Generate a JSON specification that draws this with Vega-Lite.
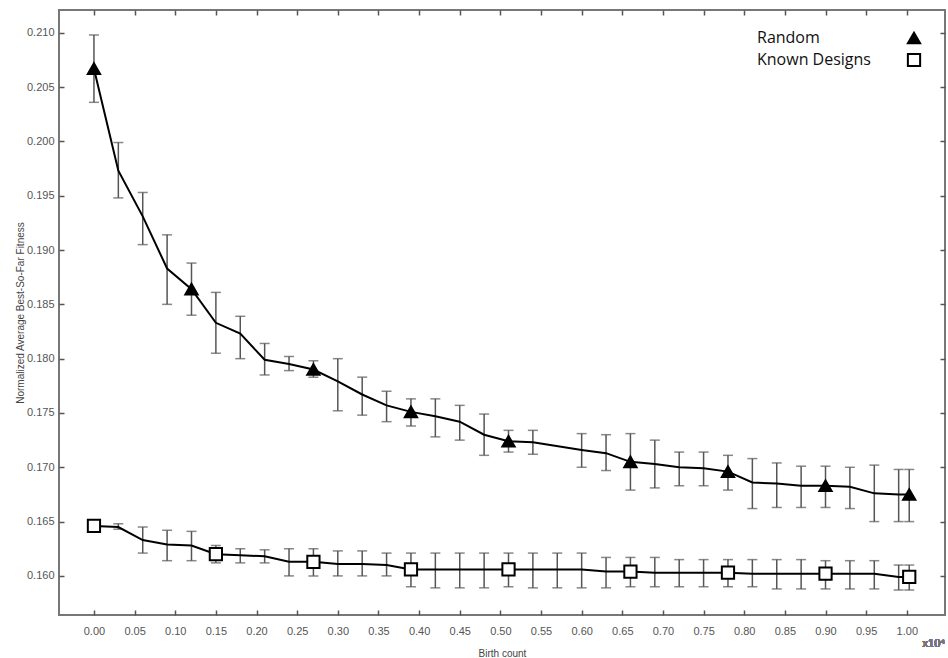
{
  "$schema": "https://vega.github.io/schema/vega-lite/v6.json",
  "width": 886,
  "height": 605,
  "autosize": "none",
  "padding": {"left": 59, "top": 10, "right": 3, "bottom": 43},
  "background": "white",
  "config": {
    "view": {"stroke": "#777", "strokeWidth": 2},
    "font": "Liberation Sans",
    "axis": {
      "grid": false,
      "domain": false,
      "ticks": true,
      "tickColor": "#555",
      "tickWidth": 1.5,
      "tickSize": 5,
      "offset": -5,
      "labelColor": "#555",
      "labelFont": "Liberation Sans",
      "labelFontSize": 11,
      "titleColor": "#444",
      "titleFont": "Liberation Sans",
      "titleFontSize": 10,
      "titleFontWeight": "normal"
    }
  },
  "data": {
    "values": [
      {"series": "Random", "x": 0.0, "y": 0.2067, "lo": 0.2036, "hi": 0.2098, "marked": true},
      {"series": "Random", "x": 0.03, "y": 0.1973, "lo": 0.1948, "hi": 0.1999, "marked": false},
      {"series": "Random", "x": 0.06, "y": 0.1931, "lo": 0.1905, "hi": 0.1953, "marked": false},
      {"series": "Random", "x": 0.09, "y": 0.1883, "lo": 0.1850, "hi": 0.1914, "marked": false},
      {"series": "Random", "x": 0.12, "y": 0.1864, "lo": 0.1840, "hi": 0.1888, "marked": true},
      {"series": "Random", "x": 0.15, "y": 0.1833, "lo": 0.1805, "hi": 0.1861, "marked": false},
      {"series": "Random", "x": 0.18, "y": 0.1823, "lo": 0.1800, "hi": 0.1839, "marked": false},
      {"series": "Random", "x": 0.21, "y": 0.1799, "lo": 0.1785, "hi": 0.1814, "marked": false},
      {"series": "Random", "x": 0.24, "y": 0.1795, "lo": 0.1789, "hi": 0.1802, "marked": false},
      {"series": "Random", "x": 0.27, "y": 0.1790, "lo": 0.1783, "hi": 0.1798, "marked": true},
      {"series": "Random", "x": 0.30, "y": 0.1779, "lo": 0.1752, "hi": 0.1800, "marked": false},
      {"series": "Random", "x": 0.33, "y": 0.1767, "lo": 0.1748, "hi": 0.1783, "marked": false},
      {"series": "Random", "x": 0.36, "y": 0.1757, "lo": 0.1742, "hi": 0.1770, "marked": false},
      {"series": "Random", "x": 0.39, "y": 0.1751, "lo": 0.1738, "hi": 0.1763, "marked": true},
      {"series": "Random", "x": 0.42, "y": 0.1747, "lo": 0.1728, "hi": 0.1763, "marked": false},
      {"series": "Random", "x": 0.45, "y": 0.1742, "lo": 0.1725, "hi": 0.1757, "marked": false},
      {"series": "Random", "x": 0.48, "y": 0.1730, "lo": 0.1711, "hi": 0.1749, "marked": false},
      {"series": "Random", "x": 0.51, "y": 0.1724, "lo": 0.1714, "hi": 0.1734, "marked": true},
      {"series": "Random", "x": 0.54, "y": 0.1723, "lo": 0.1712, "hi": 0.1734, "marked": false},
      {"series": "Random", "x": 0.60, "y": 0.1716, "lo": 0.1700, "hi": 0.1731, "marked": false},
      {"series": "Random", "x": 0.63, "y": 0.1713, "lo": 0.1697, "hi": 0.1730, "marked": false},
      {"series": "Random", "x": 0.66, "y": 0.1705, "lo": 0.1679, "hi": 0.1731, "marked": true},
      {"series": "Random", "x": 0.69, "y": 0.1703, "lo": 0.1681, "hi": 0.1725, "marked": false},
      {"series": "Random", "x": 0.72, "y": 0.1700, "lo": 0.1683, "hi": 0.1714, "marked": false},
      {"series": "Random", "x": 0.75, "y": 0.1699, "lo": 0.1683, "hi": 0.1714, "marked": false},
      {"series": "Random", "x": 0.78, "y": 0.1696, "lo": 0.1679, "hi": 0.1711, "marked": true},
      {"series": "Random", "x": 0.81, "y": 0.1686, "lo": 0.1662, "hi": 0.1708, "marked": false},
      {"series": "Random", "x": 0.84, "y": 0.1685, "lo": 0.1663, "hi": 0.1704, "marked": false},
      {"series": "Random", "x": 0.87, "y": 0.1683, "lo": 0.1663, "hi": 0.1701, "marked": false},
      {"series": "Random", "x": 0.90, "y": 0.1683, "lo": 0.1663, "hi": 0.1701, "marked": true},
      {"series": "Random", "x": 0.93, "y": 0.1682, "lo": 0.1662, "hi": 0.1700, "marked": false},
      {"series": "Random", "x": 0.96, "y": 0.1676, "lo": 0.1650, "hi": 0.1702, "marked": false},
      {"series": "Random", "x": 0.99, "y": 0.1675, "lo": 0.1650, "hi": 0.1698, "marked": false},
      {"series": "Random", "x": 1.003, "y": 0.1675, "lo": 0.1650, "hi": 0.1698, "marked": true},
      {"series": "Known Designs", "x": 0.0, "y": 0.1646, "lo": 0.1645, "hi": 0.1647, "marked": true},
      {"series": "Known Designs", "x": 0.03, "y": 0.1645, "lo": 0.1643, "hi": 0.1648, "marked": false},
      {"series": "Known Designs", "x": 0.06, "y": 0.1633, "lo": 0.1621, "hi": 0.1645, "marked": false},
      {"series": "Known Designs", "x": 0.09, "y": 0.1629, "lo": 0.1614, "hi": 0.1642, "marked": false},
      {"series": "Known Designs", "x": 0.12, "y": 0.1628, "lo": 0.1614, "hi": 0.1641, "marked": false},
      {"series": "Known Designs", "x": 0.15, "y": 0.1620, "lo": 0.1612, "hi": 0.1628, "marked": true},
      {"series": "Known Designs", "x": 0.18, "y": 0.1619, "lo": 0.1612, "hi": 0.1625, "marked": false},
      {"series": "Known Designs", "x": 0.21, "y": 0.1618, "lo": 0.1612, "hi": 0.1624, "marked": false},
      {"series": "Known Designs", "x": 0.24, "y": 0.1613, "lo": 0.1600, "hi": 0.1625, "marked": false},
      {"series": "Known Designs", "x": 0.27, "y": 0.1613, "lo": 0.1600, "hi": 0.1625, "marked": true},
      {"series": "Known Designs", "x": 0.30, "y": 0.1611, "lo": 0.1600, "hi": 0.1623, "marked": false},
      {"series": "Known Designs", "x": 0.33, "y": 0.1611, "lo": 0.1600, "hi": 0.1623, "marked": false},
      {"series": "Known Designs", "x": 0.36, "y": 0.1610, "lo": 0.1600, "hi": 0.1621, "marked": false},
      {"series": "Known Designs", "x": 0.39, "y": 0.1606, "lo": 0.1590, "hi": 0.1621, "marked": true},
      {"series": "Known Designs", "x": 0.42, "y": 0.1606, "lo": 0.1589, "hi": 0.1621, "marked": false},
      {"series": "Known Designs", "x": 0.45, "y": 0.1606, "lo": 0.1589, "hi": 0.1621, "marked": false},
      {"series": "Known Designs", "x": 0.48, "y": 0.1606, "lo": 0.1589, "hi": 0.1621, "marked": false},
      {"series": "Known Designs", "x": 0.51, "y": 0.1606, "lo": 0.1590, "hi": 0.1621, "marked": true},
      {"series": "Known Designs", "x": 0.54, "y": 0.1606, "lo": 0.1589, "hi": 0.1621, "marked": false},
      {"series": "Known Designs", "x": 0.57, "y": 0.1606, "lo": 0.1589, "hi": 0.1621, "marked": false},
      {"series": "Known Designs", "x": 0.60, "y": 0.1606, "lo": 0.1589, "hi": 0.1621, "marked": false},
      {"series": "Known Designs", "x": 0.63, "y": 0.1604, "lo": 0.1589, "hi": 0.1617, "marked": false},
      {"series": "Known Designs", "x": 0.66, "y": 0.1604, "lo": 0.1590, "hi": 0.1617, "marked": true},
      {"series": "Known Designs", "x": 0.69, "y": 0.1603, "lo": 0.1590, "hi": 0.1617, "marked": false},
      {"series": "Known Designs", "x": 0.72, "y": 0.1603, "lo": 0.1590, "hi": 0.1615, "marked": false},
      {"series": "Known Designs", "x": 0.75, "y": 0.1603, "lo": 0.1590, "hi": 0.1615, "marked": false},
      {"series": "Known Designs", "x": 0.78, "y": 0.1603, "lo": 0.1590, "hi": 0.1615, "marked": true},
      {"series": "Known Designs", "x": 0.81, "y": 0.1602, "lo": 0.1590, "hi": 0.1615, "marked": false},
      {"series": "Known Designs", "x": 0.84, "y": 0.1602, "lo": 0.1588, "hi": 0.1615, "marked": false},
      {"series": "Known Designs", "x": 0.87, "y": 0.1602, "lo": 0.1588, "hi": 0.1615, "marked": false},
      {"series": "Known Designs", "x": 0.90, "y": 0.1602, "lo": 0.1588, "hi": 0.1614, "marked": true},
      {"series": "Known Designs", "x": 0.93, "y": 0.1602, "lo": 0.1588, "hi": 0.1614, "marked": false},
      {"series": "Known Designs", "x": 0.96, "y": 0.1602, "lo": 0.1588, "hi": 0.1614, "marked": false},
      {"series": "Known Designs", "x": 0.99, "y": 0.1599, "lo": 0.1587, "hi": 0.1610, "marked": false},
      {"series": "Known Designs", "x": 1.003, "y": 0.1599, "lo": 0.1587, "hi": 0.1610, "marked": true}
    ]
  },
  "resolve": {"axis": {"x": "independent", "y": "independent"}},
  "layer": [
    {
      "mark": {"type": "rule", "color": "#555", "strokeWidth": 1.5},
      "encoding": {
        "x": {"field": "x", "type": "quantitative", "scale": {"domain": [-0.043, 1.047], "nice": false, "zero": false},
          "axis": {"orient": "bottom", "values": [0,0.05,0.1,0.15,0.2,0.25,0.3,0.35,0.4,0.45,0.5,0.55,0.6,0.65,0.7,0.75,0.8,0.85,0.9,0.95,1.0], "format": ".2f", "labelPadding": 10, "title": "Birth count", "titlePadding": 12}},
        "y": {"field": "lo", "type": "quantitative", "scale": {"domain": [0.1564, 0.2121], "nice": false, "zero": false},
          "axis": {"orient": "left", "values": [0.16,0.165,0.17,0.175,0.18,0.185,0.19,0.195,0.2,0.205,0.21], "format": ".3f", "labelPadding": 5, "title": "Normalized Average Best-So-Far Fitness", "titlePadding": 1}},
        "y2": {"field": "hi"}
      }
    },
    {
      "mark": {"type": "tick", "orient": "horizontal", "color": "#555", "size": 10, "thickness": 1.5},
      "encoding": {
        "x": {"field": "x", "type": "quantitative", "axis": null},
        "y": {"field": "lo", "type": "quantitative", "axis": null}
      }
    },
    {
      "mark": {"type": "tick", "orient": "horizontal", "color": "#555", "size": 10, "thickness": 1.5},
      "encoding": {
        "x": {"field": "x", "type": "quantitative", "axis": null},
        "y": {"field": "hi", "type": "quantitative", "axis": null}
      }
    },
    {
      "mark": {"type": "line", "color": "black", "strokeWidth": 2},
      "encoding": {
        "x": {"field": "x", "type": "quantitative", "axis": null},
        "y": {"field": "y", "type": "quantitative", "axis": null},
        "detail": {"field": "series"}
      }
    },
    {
      "transform": [{"filter": "datum.marked"}],
      "mark": {"type": "point", "stroke": "black", "strokeWidth": 2, "opacity": 1, "filled": false, "size": 150},
      "encoding": {
        "x": {"field": "x", "type": "quantitative", "axis": null},
        "y": {"field": "y", "type": "quantitative", "axis": null},
        "shape": {"field": "series", "type": "nominal", "scale": {"domain": ["Random", "Known Designs"], "range": ["triangle-up", "square"]},
          "legend": {"title": null, "orient": "top-right", "offset": 20, "padding": 0, "labelAlign": "left", "labelOffset": -165, "labelFont": "Open Sans", "labelFontSize": 16, "labelColor": "#111", "rowPadding": 1, "symbolSize": 150, "symbolStrokeWidth": 2}},
        "fill": {"field": "series", "type": "nominal", "scale": {"domain": ["Random", "Known Designs"], "range": ["black", "white"]}}
      }
    },
    {
      "mark": {"type": "line", "opacity": 0},
      "encoding": {
        "x": {"field": "x", "type": "quantitative",
          "axis": {"orient": "top", "values": [0,0.05,0.1,0.15,0.2,0.25,0.3,0.35,0.4,0.45,0.5,0.55,0.6,0.65,0.7,0.75,0.8,0.85,0.9,0.95,1.0], "labels": false, "title": null}},
        "y": {"field": "y", "type": "quantitative",
          "axis": {"orient": "right", "values": [0.16,0.165,0.17,0.175,0.18,0.185,0.19,0.195,0.2,0.205,0.21], "labels": false, "title": null}},
        "detail": {"field": "series"}
      }
    },
    {
      "mark": {"type": "text", "text": "x10⁴", "align": "right", "baseline": "middle", "dy": 29, "font": "Liberation Sans", "fontSize": 11, "fontWeight": "normal", "fill": "#777"},
      "encoding": {
        "x": {"datum": 1.047, "type": "quantitative", "axis": null},
        "y": {"datum": 0.1564, "type": "quantitative", "axis": null}
      }
    }
  ]
}
